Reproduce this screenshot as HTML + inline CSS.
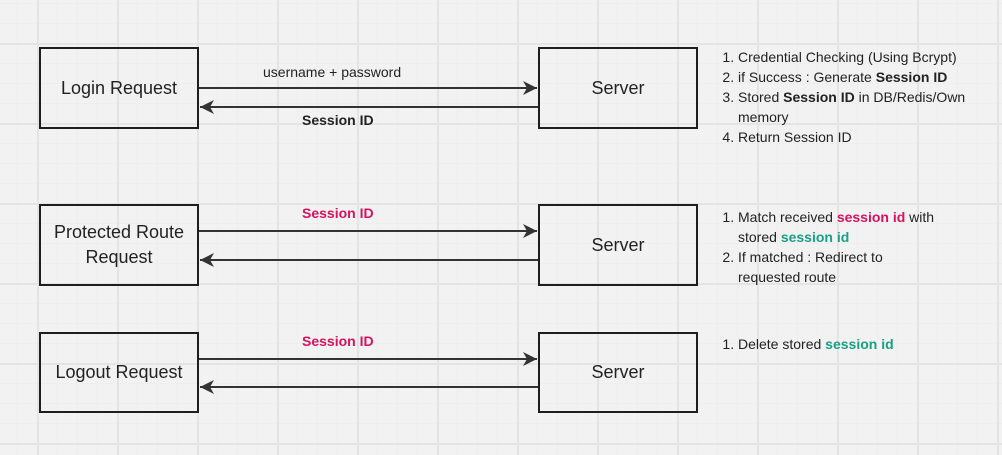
<!DOCTYPE html>
<html><head><meta charset="utf-8"><style>
body{margin:0;width:1002px;height:455px;overflow:hidden;background:#f2f2f2;font-family:"Liberation Sans",sans-serif;}
.bg{position:absolute;left:0;top:0;width:1002px;height:455px;
background-image:
linear-gradient(to right,#e4e4e4 2px,transparent 2px),
linear-gradient(to bottom,#e4e4e4 2px,transparent 2px),
linear-gradient(to right,#eeeeee 1px,transparent 1px),
linear-gradient(to bottom,#eeeeee 1px,transparent 1px);
background-size:80px 80px,80px 80px,20px 20px,20px 20px;
background-position:37px 0,0 43px,17px 0,0 3px;}
.box{position:absolute;border:2px solid #1e1e1e;box-sizing:border-box;display:flex;align-items:center;justify-content:center;text-align:center;font-size:18px;color:#222;line-height:25px;}
.t{position:absolute;font-size:14px;color:#222;white-space:nowrap;}
.b{font-weight:bold}
.p{color:#d6135f;font-weight:bold}
.g{color:#1aa086;font-weight:bold}
ol{position:absolute;margin:0;padding-left:16px;font-size:14px;color:#222;line-height:20px;}
</style></head><body>
<div class="bg"></div>
<div class="box" style="left:39px;top:47px;width:160px;height:82px">Login Request</div>
<div class="box" style="left:538px;top:47px;width:160px;height:82px">Server</div>
<div class="box" style="left:39px;top:204px;width:160px;height:82px">Protected Route<br>Request</div>
<div class="box" style="left:538px;top:204px;width:160px;height:82px">Server</div>
<div class="box" style="left:39px;top:332px;width:160px;height:81px">Logout Request</div>
<div class="box" style="left:538px;top:332px;width:160px;height:81px">Server</div>
<svg width="1002" height="455" style="position:absolute;left:0;top:0">
<defs>
<marker id="a" markerWidth="16" markerHeight="16" refX="14" refY="7" orient="auto" markerUnits="userSpaceOnUse"><path d="M0,0 L14,7 L0,14 L4,7 Z" fill="#333"/></marker>
</defs>
<g stroke="#333" stroke-width="2">
<line x1="199" y1="88" x2="537" y2="88" marker-end="url(#a)"/>
<line x1="538" y1="107" x2="200" y2="107" marker-end="url(#a)"/>
<line x1="199" y1="231" x2="537" y2="231" marker-end="url(#a)"/>
<line x1="538" y1="260" x2="200" y2="260" marker-end="url(#a)"/>
<line x1="199" y1="359" x2="537" y2="359" marker-end="url(#a)"/>
<line x1="538" y1="387" x2="200" y2="387" marker-end="url(#a)"/>
</g></svg>
<div class="t" style="left:263px;top:64px">username + password</div>
<div class="t b" style="left:302px;top:112px">Session ID</div>
<div class="t p" style="left:302px;top:205px">Session ID</div>
<div class="t p" style="left:302px;top:333px">Session ID</div>
<ol style="left:722px;top:47px;width:270px">
<li>Credential Checking (Using Bcrypt)</li>
<li>if Success : Generate <b>Session ID</b></li>
<li>Stored <b>Session ID</b> in DB/Redis/Own memory</li>
<li>Return Session ID</li>
</ol>
<ol style="left:722px;top:207px;width:200px">
<li>Match received <span class="p">session id</span> with stored <span class="g">session id</span></li>
<li>If matched : Redirect to requested route</li>
</ol>
<ol style="left:722px;top:334px;width:260px">
<li>Delete stored <span class="g">session id</span></li>
</ol>
</body></html>
